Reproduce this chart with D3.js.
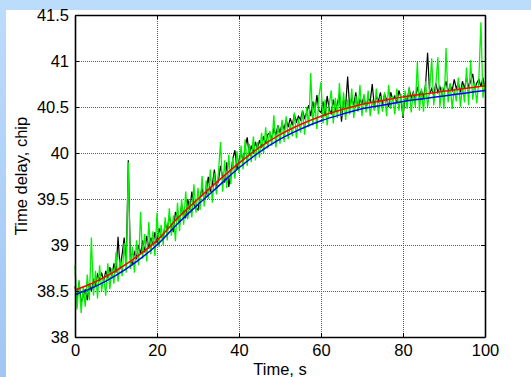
<!DOCTYPE html>
<html>
<head>
<meta charset="utf-8">
<script src="https://cdn.jsdelivr.net/npm/d3@7"></script>
<style>
  body { margin: 0; background: #fff; }
  svg { display: block; font-family: "Liberation Sans", Arial, sans-serif; }
</style>
</head>
<body>
<svg id="chart" width="531" height="377"></svg>
<script>
// sample grid of the measured series (0.5 s step)
const time = d3.range(0, 100.5, 0.5);

// measured delay, black trace
const blackDelay = [
  38.55, 38.42, 38.60, 38.38, 38.44, 38.52, 38.40, 38.58, 38.50, 38.62,
  38.56, 38.68, 38.62, 38.70, 38.60, 38.72, 38.64, 38.76, 38.66, 38.80,
  38.70, 39.09, 38.74, 38.90, 39.08, 38.80, 39.92, 38.85, 38.78, 38.92,
  38.86, 39.00, 38.90, 39.05, 38.92, 39.10, 38.96, 39.08, 39.00, 39.14,
  39.02, 39.18, 39.10, 39.06, 39.24, 39.16, 39.32, 39.20, 39.14, 39.36,
  39.30, 39.22, 39.44, 39.34, 39.30, 39.50, 39.38, 39.58, 39.44, 39.40,
  39.38, 39.52, 39.62, 39.48, 39.56, 39.74, 39.58, 39.66, 39.82, 39.62,
  39.70, 39.86, 39.74, 39.68, 39.90, 39.63, 39.78, 39.94, 40.03, 39.82,
  39.92, 40.02, 39.90, 40.06, 40.17, 39.98, 40.08, 40.00, 40.12, 40.04,
  40.14, 40.06, 40.18, 40.10, 40.20, 40.22, 40.16, 40.26, 40.20, 40.30,
  40.22, 40.32, 40.26, 40.36, 40.28, 40.38, 40.30, 40.42, 40.34, 40.40,
  40.36, 40.46, 40.38, 40.44, 40.52, 40.40, 40.56, 40.44, 40.63, 40.46,
  40.44, 40.56, 40.40, 40.62, 40.48, 40.42, 40.58, 40.46, 40.54, 40.64,
  40.34, 40.58, 40.50, 40.83, 40.48, 40.60, 40.52, 40.66, 40.46, 40.58,
  40.54, 40.62, 40.48, 40.60, 40.56, 40.75, 40.50, 40.62, 40.56, 40.66,
  40.52, 40.64, 40.58, 40.50, 40.66, 40.58, 40.62, 40.54, 40.68, 40.60,
  40.38, 40.62, 40.56, 40.70, 40.60, 40.66, 40.58, 40.72, 40.62, 40.68,
  40.60, 40.74, 41.09, 40.64, 40.70, 40.62, 40.76, 40.66, 40.72, 40.64,
  40.70, 40.78, 40.66, 40.74, 40.68, 40.80, 40.70, 40.76, 40.66, 40.78,
  40.70, 40.82, 40.72, 40.78, 40.86, 40.70, 40.76, 40.80, 40.72, 40.82,
  40.68
];

// measured delay, green trace
const greenDelay = [
  38.78, 38.30, 38.62, 38.26, 38.55, 38.33, 38.68, 38.40, 39.08, 38.45,
  38.72, 38.42, 38.78, 38.50, 38.66, 38.45, 38.80, 38.52, 38.75, 38.58,
  38.92, 38.60, 38.85, 38.66, 39.02, 38.70, 39.90, 38.74, 38.98, 38.70,
  39.05, 38.78, 39.36, 38.85, 39.12, 38.82, 39.25, 38.90, 39.15, 38.88,
  39.35, 38.98, 39.22, 39.00, 39.30, 39.05, 39.40, 39.10, 39.32, 39.04,
  39.46, 39.15, 39.50, 39.22, 39.58, 39.28, 39.48, 39.30, 39.66, 39.35,
  39.62, 39.38, 39.75, 39.42, 39.70, 39.50, 39.82, 39.46, 39.78, 39.55,
  39.80, 40.12, 39.58, 39.92, 39.62, 39.98, 39.66, 39.95, 39.72, 40.02,
  39.78, 40.08, 39.82, 40.15, 39.86, 40.10, 39.90, 40.18, 39.92, 40.12,
  39.95, 40.22, 40.00, 40.28, 40.05, 40.24, 40.08, 40.41, 40.06, 40.30,
  40.10, 40.36, 40.12, 40.40, 40.15, 40.32, 40.18, 40.44, 40.16, 40.38,
  40.22, 40.46, 40.20, 40.50, 40.28, 40.87, 40.30, 40.55, 40.26, 40.62,
  40.77, 40.32, 40.58, 40.30, 40.52, 40.68, 40.32, 40.60, 40.38, 40.76,
  40.40, 40.66, 40.36, 40.58, 40.42, 40.70, 40.38, 40.62, 40.45, 40.74,
  40.40, 40.64, 40.44, 40.68, 40.40, 40.58, 40.46, 40.70, 40.42, 40.62,
  40.45, 40.66, 40.40, 40.74, 40.48, 40.62, 40.42, 40.70, 40.46, 40.64,
  40.40, 40.68, 40.48, 40.72, 40.44, 40.66, 40.50, 40.99, 40.46, 40.70,
  40.45, 40.78, 40.50, 40.68, 41.03, 40.52, 40.74, 41.04, 40.50, 40.72,
  40.48, 41.14, 40.55, 40.76, 40.48, 40.70, 40.56, 40.82, 40.50, 40.74,
  40.55, 40.93, 40.52, 41.01, 40.58, 40.76, 40.54, 40.80, 41.42, 40.60,
  40.75
];

// smooth fitted curves
const fitTime = [0, 5, 10, 15, 20, 25, 30, 35, 40, 45, 50, 55, 60, 65, 70, 75, 80, 85, 90, 95, 100];
const redFit = [38.51, 38.60, 38.72, 38.87, 39.05, 39.29, 39.50, 39.70, 39.89, 40.06, 40.20,
                40.31, 40.40, 40.47, 40.53, 40.57, 40.61, 40.64, 40.67, 40.70, 40.73];
const blueFit = [38.46, 38.55, 38.67, 38.82, 39.00, 39.23, 39.44, 39.64, 39.84, 40.01, 40.15,
                 40.26, 40.35, 40.42, 40.48, 40.52, 40.56, 40.59, 40.62, 40.65, 40.68];

const xTicks = [0, 20, 40, 60, 80, 100];
const yTicks = [38, 38.5, 39, 39.5, 40, 40.5, 41, 41.5];

const margin = { top: 15, right: 46, bottom: 40, left: 75 };
const width = 531, height = 377;

const svg = d3.select('#chart');

// figure background: light blue bands top and left
const defs = svg.append('defs');
const grad = defs.append('linearGradient').attr('id', 'sideBand')
  .attr('x1', 0).attr('y1', 0).attr('x2', 0).attr('y2', 1);
grad.append('stop').attr('offset', '0%').attr('stop-color', '#bcdcfc');
grad.append('stop').attr('offset', '100%').attr('stop-color', '#a2c6f4');

svg.append('rect').attr('width', width).attr('height', height).attr('fill', '#fff');
svg.append('rect').attr('width', width).attr('height', 10).attr('fill', '#bcdcfc');
svg.append('rect').attr('width', 6).attr('height', height).attr('fill', 'url(#sideBand)');

const x = d3.scaleLinear().domain([0, 100]).range([margin.left, width - margin.right]);
const y = d3.scaleLinear().domain([38, 41.5]).range([height - margin.bottom, margin.top]);

const x0 = x.range()[0], x1 = x.range()[1];
const y0 = y.range()[0], y1 = y.range()[1];

// dotted grid
const grid = svg.append('g').attr('stroke', '#5a5a5a').attr('stroke-width', 1)
  .attr('stroke-dasharray', '1,1');
grid.selectAll('.gx').data(xTicks.slice(1, -1)).join('line')
  .attr('x1', d => Math.round(x(d)) + 0.5).attr('x2', d => Math.round(x(d)) + 0.5)
  .attr('y1', y1).attr('y2', y0);
grid.selectAll('.gy').data(yTicks.slice(1, -1)).join('line')
  .attr('y1', d => Math.round(y(d)) + 0.5).attr('y2', d => Math.round(y(d)) + 0.5)
  .attr('x1', x0).attr('x2', x1);

// data lines
const line = d3.line().x(d => x(d[0])).y(d => y(d[1]));
const smooth = d3.line().x(d => x(d[0])).y(d => y(d[1])).curve(d3.curveMonotoneX);

const plot = svg.append('g');
plot.append('path')
  .datum(d3.zip(time, blackDelay))
  .attr('fill', 'none').attr('stroke', '#000').attr('stroke-width', 1.2)
  .attr('d', line);
plot.append('path')
  .datum(d3.zip(time, greenDelay))
  .attr('fill', 'none').attr('stroke', '#00f000').attr('stroke-width', 1.3)
  .attr('d', line);
plot.append('path')
  .datum(d3.zip(fitTime, blueFit))
  .attr('fill', 'none').attr('stroke', '#0000ff').attr('stroke-width', 1.5)
  .attr('d', smooth);
plot.append('path')
  .datum(d3.zip(fitTime, redFit))
  .attr('fill', 'none').attr('stroke', '#ff0000').attr('stroke-width', 1.5)
  .attr('d', smooth);

// axes, ticks pointing inward
const fmt = d => String(d);
const axB = svg.append('g').attr('transform', `translate(0,${y0})`)
  .call(d3.axisBottom(x).tickValues(xTicks).tickFormat(fmt).tickSize(-4).tickSizeOuter(0).tickPadding(7));
const axT = svg.append('g').attr('transform', `translate(0,${y1})`)
  .call(d3.axisTop(x).tickValues(xTicks).tickFormat('').tickSize(-4).tickSizeOuter(0));
const axL = svg.append('g').attr('transform', `translate(${x0},0)`)
  .call(d3.axisLeft(y).tickValues(yTicks).tickFormat(fmt).tickSize(-4).tickSizeOuter(0).tickPadding(6));
const axR = svg.append('g').attr('transform', `translate(${x1},0)`)
  .call(d3.axisRight(y).tickValues(yTicks).tickFormat('').tickSize(-4).tickSizeOuter(0));

[axB, axT, axL, axR].forEach(a => {
  a.select('.domain').attr('stroke', '#000').attr('stroke-width', 1.6);
  a.selectAll('.tick line').attr('stroke', '#000').attr('stroke-width', 1);
  a.selectAll('.tick text').attr('fill', '#000')
    .style('font-size', '16.5px').style('font-family', '"Liberation Sans", Arial, sans-serif');
});

// axis titles
svg.append('text')
  .attr('x', (x0 + x1) / 2).attr('y', 375)
  .attr('text-anchor', 'middle').style('font-size', '16.5px')
  .text('Time, s');
svg.append('text')
  .attr('transform', `translate(27,${(y0 + y1) / 2}) rotate(-90)`)
  .attr('text-anchor', 'middle').style('font-size', '16.5px')
  .text('Time delay, chip');
</script>
</body>
</html>
